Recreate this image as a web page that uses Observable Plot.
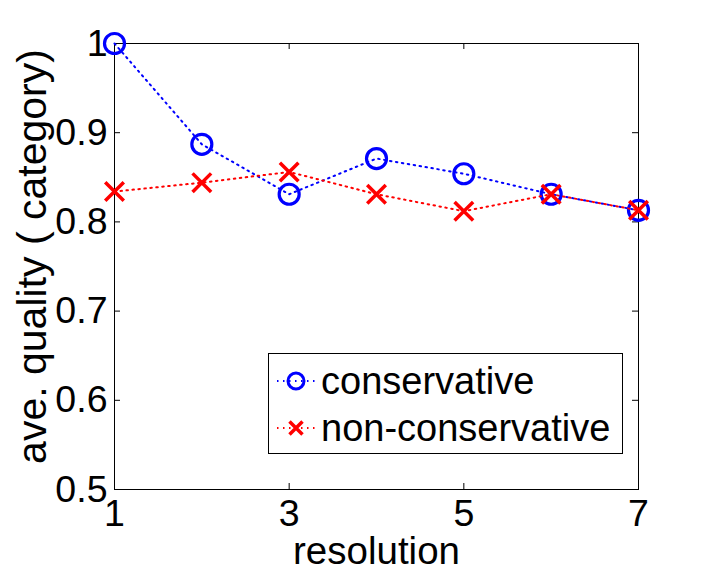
<!DOCTYPE html>
<html><head><meta charset="utf-8">
<script src="https://cdn.jsdelivr.net/npm/d3@7"></script>
<script src="https://cdn.jsdelivr.net/npm/@observablehq/plot@0.6"></script>
<style>body{margin:0;background:#fff}</style>
</head><body><div id="chart"></div>
<script>
const resolution = [1, 2, 3, 4, 5, 6, 7];
const conservative = [1.0, 0.887, 0.831, 0.871, 0.854, 0.831, 0.813];
const nonConservative = [0.834, 0.844, 0.856, 0.831, 0.812, 0.831, 0.813];
const seriesNames = ["conservative", "non-conservative"];
const xTicks = [1, 3, 5, 7];
const yTicks = [0.5, 0.6, 0.7, 0.8, 0.9, 1];
const xLabel = "resolution";
const yLabel = "ave. quality ( category)";

const W = 705, H = 577, mL = 114, mR = 67, mT = 43, mB = 88;
const pw = W - mL - mR, ph = H - mT - mB;
const font = "'Liberation Sans', Arial, Helvetica, sans-serif";
const blue = "#0000ff", red = "#ff0000";
const dash = "1.5,4.5";
const tk = 6;

const rows = (ys, s) => resolution.map((x, i) => ({x, y: ys[i], s}));
const dataC = rows(conservative, seriesNames[0]);
const dataN = rows(nonConservative, seriesNames[1]);

const chart = Plot.plot({
  width: W, height: H,
  marginLeft: mL, marginRight: mR, marginTop: mT, marginBottom: mB,
  style: {fontFamily: font, fontSize: "37.5px", color: "#000", background: "#fff", overflow: "visible"},
  x: {domain: [1, 7]},
  y: {domain: [0.5, 1]},
  marks: [
    Plot.frame({stroke: "#000", strokeWidth: 1}),
    Plot.tickY(yTicks, {y: d => d, insetRight: pw - tk, stroke: "#000"}),
    Plot.tickY(yTicks, {y: d => d, insetLeft: pw - tk, stroke: "#000"}),
    Plot.tickX(xTicks, {x: d => d, insetTop: ph - tk, stroke: "#000"}),
    Plot.tickX(xTicks, {x: d => d, insetBottom: ph - tk, stroke: "#000"}),
    Plot.axisX({ticks: xTicks, tickSize: 0, tickPadding: 10, tickFormat: d => String(d), label: null}),
    Plot.axisY({ticks: yTicks, tickSize: 0, tickPadding: 7, tickFormat: d => d === 1 ? "1" : d.toFixed(1), label: null}),
    Plot.text([xLabel], {frameAnchor: "bottom", lineAnchor: "middle", textAnchor: "middle", dy: 62, text: d => d, fontSize: 38.5}),
    Plot.text([yLabel], {frameAnchor: "left", lineAnchor: "middle", textAnchor: "middle", dx: -82, dy: -10, rotate: -90, text: d => d, fontSize: 41}),
    Plot.line(dataC, {x: "x", y: "y", stroke: blue, strokeWidth: 2, strokeDasharray: dash}),
    Plot.dot(dataC, {x: "x", y: "y", symbol: "circle", r: 10, stroke: blue, strokeWidth: 3.2, fill: "none"}),
    Plot.line(dataN, {x: "x", y: "y", stroke: red, strokeWidth: 2, strokeDasharray: dash}),
    Plot.dot(dataN, {x: "x", y: "y", symbol: "times", r: 8.5, stroke: red, strokeWidth: 3.5})
  ]
});
document.getElementById("chart").appendChild(chart);

// legend
const svg = d3.select(chart);
const g = svg.append("g").attr("font-family", font).attr("font-size", 38).attr("text-anchor", "start");
g.append("rect").attr("x", 268.5).attr("y", 353.5).attr("width", 354).attr("height", 100)
  .attr("fill", "#fff").attr("stroke", "#000");
const entries = [
  {name: seriesNames[0], color: blue, sym: "circle", y: 381},
  {name: seriesNames[1], color: red, sym: "times", y: 428}
];
for (const e of entries) {
  g.append("line").attr("x1", 277).attr("x2", 317).attr("y1", e.y).attr("y2", e.y)
    .attr("stroke", e.color).attr("stroke-width", 2).attr("stroke-dasharray", dash);
  if (e.sym === "circle") {
    g.append("circle").attr("cx", 296).attr("cy", e.y).attr("r", 8).attr("fill", "none")
      .attr("stroke", e.color).attr("stroke-width", 3);
  } else {
    const s = 6.5;
    g.append("path").attr("d", `M${296-s},${e.y-s}L${296+s},${e.y+s}M${296-s},${e.y+s}L${296+s},${e.y-s}`)
      .attr("stroke", e.color).attr("stroke-width", 3.5).attr("fill", "none");
  }
  g.append("text").attr("x", 321).attr("y", e.y).attr("dy", "0.35em").attr("text-anchor", "start").text(e.name);
}
</script>
</body></html>
